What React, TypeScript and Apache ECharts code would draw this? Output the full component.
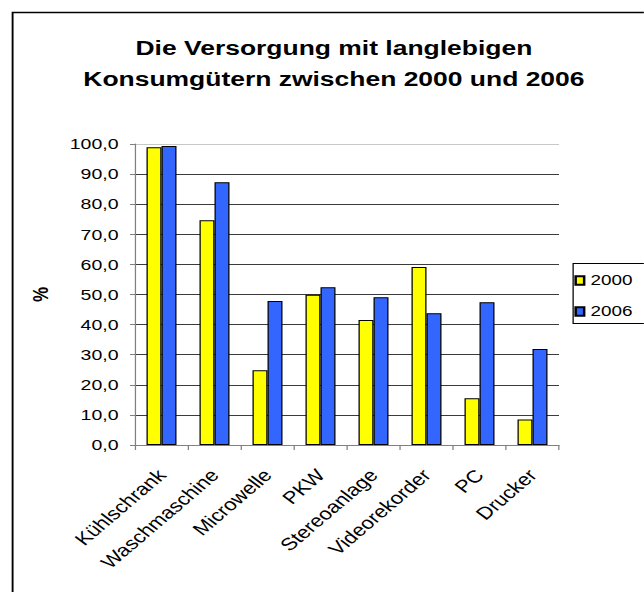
import React, { useEffect, useRef } from "react";
import * as echarts from "echarts";

const categories = [
  "Kühlschrank",
  "Waschmaschine",
  "Microwelle",
  "PKW",
  "Stereoanlage",
  "Videorekorder",
  "PC",
  "Drucker",
];
const values2000 = [98.9, 74.7, 24.8, 49.9, 41.5, 59.1, 15.5, 8.5];
const values2006 = [99.3, 87.3, 47.8, 52.4, 49.1, 43.8, 47.4, 31.9];
const seriesNames = ["2000", "2006"];
const titleLines = ["Die Versorgung mit langlebigen", "Konsumgütern zwischen 2000 und 2006"];
const yAxisName = "%";

const S = 1.26; // horizontal stretch of the reference picture
const W = 644 / S;
const H = 592;
const FONT = "'Liberation Sans', Arial, sans-serif";

export default function App() {
  const ref = useRef<HTMLDivElement>(null);

  useEffect(() => {
    if (!ref.current) return;
    const chart = echarts.init(ref.current, undefined, { renderer: "svg" });
    const gridLeft = 135 / S;
    const gridRight = 559 / S;
    const splitColors = ["#3a3a3a", "#3a3a3a", "#3a3a3a", "#3a3a3a", "#3a3a3a", "#3a3a3a", "#3a3a3a", "#3a3a3a", "#3a3a3a", "#3a3a3a", "#c8c8c8"];
    const legendLeft = 572.5 / S;
    chart.setOption({
      animation: false,
      textStyle: { fontFamily: FONT },
      title: {
        text: titleLines.join("\n"),
        left: 265,
        textAlign: "center",
        top: 32,
        padding: 0,
        textStyle: {
          fontFamily: FONT,
          fontSize: 21,
          fontWeight: "bold",
          color: "#000",
          lineHeight: 31,
        },
      },
      graphic: [
        {
          type: "rect",
          left: 7.5,
          top: 10,
          shape: { x: 0, y: 0, width: 700, height: 700 },
          style: { fill: "none", stroke: "#000", lineWidth: 1.5 },
          silent: true,
          z: -1,
        },
        {
          type: "rect",
          left: legendLeft,
          top: 263,
          shape: { x: 0, y: 0, width: 120, height: 60 },
          style: { fill: "#fff", stroke: "#000", lineWidth: 1 },
          silent: true,
          z: -1,
        },
      ],
      legend: {
        data: seriesNames,
        orient: "vertical",
        left: legendLeft,
        top: 263,
        icon: "rect",
        itemWidth: 8.5 / S,
        itemHeight: 8.5,
        itemGap: 16,
        padding: [10, 0, 0, 1.5],
        borderWidth: 0,
        textStyle: { fontFamily: FONT, fontSize: 15, color: "#000" },
      },
      grid: {
        left: gridLeft,
        width: gridRight - gridLeft,
        top: 144,
        height: 301,
        containLabel: false,
      },
      xAxis: {
        type: "category",
        data: categories,
        boundaryGap: true,
        axisLine: { lineStyle: { color: "#808080", width: 1 } },
        axisTick: { show: true, length: 5, alignWithLabel: false, lineStyle: { color: "#808080" } },
        axisLabel: {
          rotate: 47,
          margin: 27,
          interval: 0,
          fontFamily: FONT,
          fontSize: 17.5,
          color: "#000",
        },
        splitLine: { show: false },
      },
      yAxis: {
        type: "value",
        min: 0,
        max: 100,
        interval: 10,
        name: yAxisName,
        nameLocation: "middle",
        nameGap: 66,
        nameRotate: 90,
        nameTextStyle: { fontFamily: FONT, fontSize: 17, fontWeight: "bold", color: "#000" },
        axisLine: { show: true, lineStyle: { color: "#808080", width: 1 } },
        axisTick: { show: true, length: 4, inside: false, lineStyle: { color: "#808080" } },
        axisLabel: {
          margin: 13,
          fontFamily: FONT,
          fontSize: 15.5,
          color: "#000",
          formatter: (v: number) => v.toFixed(1).replace(".", ","),
        },
        splitLine: { show: true, lineStyle: { color: splitColors, width: 1 } },
      },
      series: [
        {
          name: seriesNames[0],
          type: "bar",
          data: values2000,
          barWidth: 15 / S,
          barGap: "0%",
          itemStyle: { color: "#FFFF00", borderColor: "#000", borderWidth: 1 },
        },
        {
          name: seriesNames[1],
          type: "bar",
          data: values2006,
          barWidth: 15 / S,
          barGap: "0%",
          itemStyle: { color: "#3366FF", borderColor: "#000", borderWidth: 1 },
        },
      ],
    });
    return () => chart.dispose();
  }, []);

  return (
    <div
      style={{
        position: "fixed",
        left: 0,
        top: 0,
        width: 644,
        height: H,
        overflow: "hidden",
        background: "#fff",
      }}
    >
      <div
        ref={ref}
        style={{
          width: W,
          height: H,
          transform: `scaleX(${S})`,
          transformOrigin: "0 0",
        }}
      />
    </div>
  );
}
